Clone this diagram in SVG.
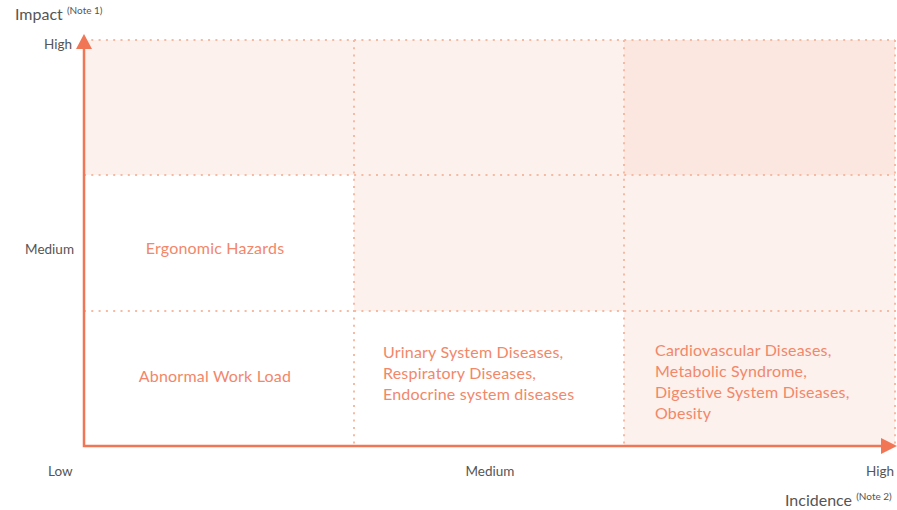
<svg xmlns="http://www.w3.org/2000/svg" width="897" height="510" viewBox="0 0 897 510">
<style>
.cell{stroke:#F6B9A2;stroke-width:2;stroke-dasharray:2 5.3}
.ax{font-family:Lato,"Liberation Sans",sans-serif;font-size:13.5px;fill:#555}
.ttl{font-family:Lato,"Liberation Sans",sans-serif;font-size:16px;fill:#555}
.sup{font-size:10px}
.lbl{font-family:Lato,"Liberation Sans",sans-serif;font-size:16px;letter-spacing:0.2px;fill:#F2876A}
.axis{stroke:#F07656;stroke-width:2.5;fill:none}
</style>
<rect width="897" height="510" fill="#fff"/>
<g id="grid">
<rect x="84" y="40" width="270" height="135" fill="#FCF1EC"/>
<rect x="354" y="40" width="270" height="135" fill="#FCF1EC"/>
<rect x="624" y="40" width="271" height="135" fill="#FBE7DF"/>
<rect x="354" y="175" width="270" height="136" fill="#FCF1EC"/>
<rect x="624" y="175" width="271" height="136" fill="#FCF1EC"/>
<rect x="624" y="311" width="271" height="135" fill="#FCF1EC"/>
<path class="cell" d="M84 40H895M84 175H895M84 311H895M354 40V446M624 40V446M895 40V446"/>
</g>
<g id="cell-ergonomic"><text class="lbl" x="215" y="254" text-anchor="middle">Ergonomic Hazards</text></g>
<g id="cell-workload"><text class="lbl" x="215" y="382" text-anchor="middle">Abnormal Work Load</text></g>
<g id="cell-medium"><text class="lbl" x="383"><tspan x="383" y="358">Urinary System Diseases,</tspan><tspan x="383" y="379">Respiratory Diseases,</tspan><tspan x="383" y="400">Endocrine system diseases</tspan></text></g>
<g id="cell-high"><text class="lbl" x="655"><tspan x="655" y="356">Cardiovascular Diseases,</tspan><tspan x="655" y="377">Metabolic Syndrome,</tspan><tspan x="655" y="398">Digestive System Diseases,</tspan><tspan x="655" y="419">Obesity</tspan></text></g>
<g id="axes">
<path class="axis" d="M84 48V446H882"/>
<polygon points="84,34 76,49 92,49" fill="#F07656"/>
<polygon points="897,446 881,438 881,454" fill="#F07656"/>
</g>
<g id="labels">
<text class="ttl" x="15" y="20">Impact <tspan class="sup" dy="-6">(Note 1)</tspan></text>
<text class="ax" x="72" y="49" text-anchor="end">High</text>
<text class="ax" x="74" y="254" text-anchor="end">Medium</text>
<text class="ax" x="48" y="476">Low</text>
<text class="ax" x="490" y="476" text-anchor="middle">Medium</text>
<text class="ax" x="894" y="476" text-anchor="end">High</text>
<text class="ttl" x="785" y="506">Incidence <tspan class="sup" dy="-6">(Note 2)</tspan></text>
</g>
</svg>
